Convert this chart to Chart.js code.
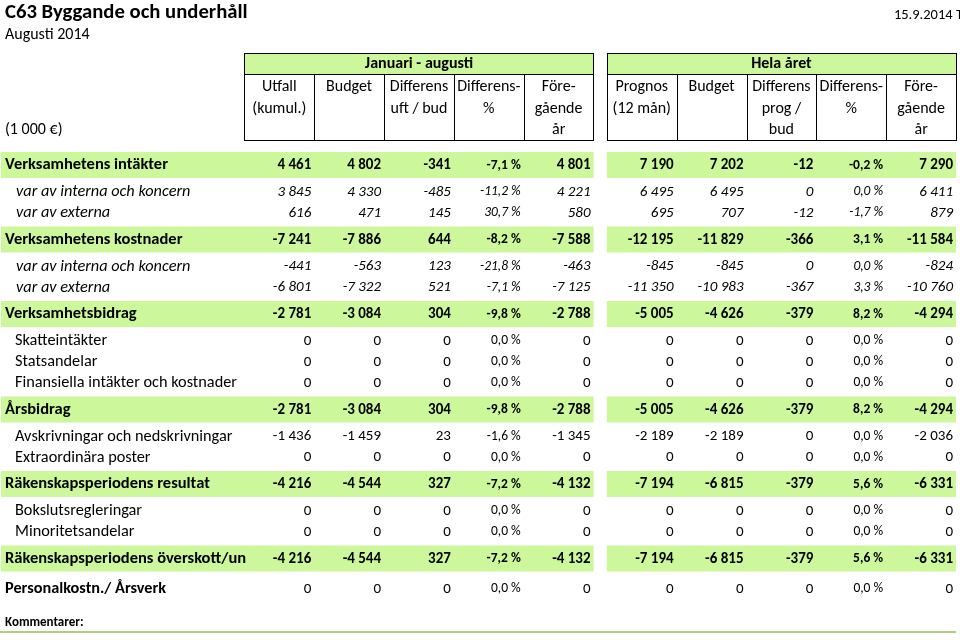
<!DOCTYPE html>
<html>
<head>
<meta charset="utf-8">
<script src="https://cdn.jsdelivr.net/npm/chart.js@4/dist/chart.umd.min.js"></script>
<style>
html, body { margin: 0; padding: 0; background: #fff; }
#wrap { width: 960px; height: 640px; }
</style>
</head>
<body>
<div id="wrap"><canvas id="mycanvas"></canvas></div>
<script>
// rows of the report
var rowLabels = [
	"Verksamhetens intäkter", "var av interna och koncern", "var av externa",
	"Verksamhetens kostnader", "var av interna och koncern", "var av externa",
	"Verksamhetsbidrag", "Skatteintäkter", "Statsandelar", "Finansiella intäkter och kostnader",
	"Årsbidrag", "Avskrivningar och nedskrivningar", "Extraordinära poster",
	"Räkenskapsperiodens resultat", "Bokslutsregleringar", "Minoritetsandelar",
	"Räkenskapsperiodens överskott/un", "Personalkostn./ Årsverk"
];
// g = green total row, i = italic sub row, n = normal row, p = personal row
var rowTypes = ["g","i","i","g","i","i","g","n","n","n","g","n","n","g","n","n","g","p"];

// Januari - augusti
var utfall   = [4461, 3845, 616, -7241, -441, -6801, -2781, 0, 0, 0, -2781, -1436, 0, -4216, 0, 0, -4216, 0];
var budget   = [4802, 4330, 471, -7886, -563, -7322, -3084, 0, 0, 0, -3084, -1459, 0, -4544, 0, 0, -4544, 0];
var diffUB   = [-341, -485, 145, 644, 123, 521, 304, 0, 0, 0, 304, 23, 0, 327, 0, 0, 327, 0];
var diffPct  = [-7.1, -11.2, 30.7, -8.2, -21.8, -7.1, -9.8, 0, 0, 0, -9.8, -1.6, 0, -7.2, 0, 0, -7.2, 0];
var foreg    = [4801, 4221, 580, -7588, -463, -7125, -2788, 0, 0, 0, -2788, -1345, 0, -4132, 0, 0, -4132, 0];
// Hela året
var prognos  = [7190, 6495, 695, -12195, -845, -11350, -5005, 0, 0, 0, -5005, -2189, 0, -7194, 0, 0, -7194, 0];
var budgetAr = [7202, 6495, 707, -11829, -845, -10983, -4626, 0, 0, 0, -4626, -2189, 0, -6815, 0, 0, -6815, 0];
var diffPB   = [-12, 0, -12, -366, 0, -367, -379, 0, 0, 0, -379, 0, 0, -379, 0, 0, -379, 0];
var diffPctAr= [-0.2, 0.0, -1.7, 3.1, 0.0, 3.3, 8.2, 0, 0, 0, 8.2, 0, 0, 5.6, 0, 0, 5.6, 0];
var foregAr  = [7290, 6411, 879, -11584, -824, -10760, -4294, 0, 0, 0, -4294, -2036, 0, -6331, 0, 0, -6331, 0];

var janHeads = [["Utfall", "(kumul.)"], ["Budget"], ["Differens", "uft / bud"], ["Differens-", "%"], ["Före-", "gående", "år"]];
var arHeads  = [["Prognos", "(12 mån)"], ["Budget"], ["Differens", "prog /", "bud"], ["Differens-", "%"], ["Före-", "gående", "år"]];

var columns = [utfall, budget, diffUB, diffPct, foreg, prognos, budgetAr, diffPB, diffPctAr, foregAr];
var isPct = [false, false, false, true, false, false, false, false, true, false];

// layout
var FONT = "Carlito, Lato, 'Open Sans', sans-serif";
var GREEN = "rgb(204,247,155)";
var LABEL_W = 3.5, GAP = 0.19;
var rowH = { g: 32.5, i: 21, n: 21, p: 28 };

function colLeft(c) { return c < 5 ? LABEL_W + c : LABEL_W + GAP + c; }
var xMax = colLeft(9) + 1;

var rowTop = [], total = 0;
for (var r in rowTypes) { rowTop.push(total); total += rowH[rowTypes[r]]; }
function rowCenter(r) { return rowTop[r] + rowH[rowTypes[r]] / 2; }

function fmtNum(v) {
	var s = Math.abs(v).toString().replace(/\B(?=(\d{3})+(?!\d))/g, " ");
	return (v < 0 ? "-" : "") + s;
}
function fmtPct(v) {
	return (v < 0 ? "-" : "") + Math.abs(v).toFixed(1).replace(".", ",") + " %";
}

var datasets = [];
for (var c = 0; c < columns.length; c++) {
	var pts = [];
	for (var r = 0; r < rowLabels.length; r++) {
		pts.push({ x: colLeft(c) + 0.5, y: rowCenter(r) });
	}
	datasets.push({ label: "col" + c, data: pts, pointRadius: 0, showLine: false, values: columns[c], pct: isPct[c] });
}

var tablePlugin = {
	id: "table",
	beforeDatasetsDraw: function(chart) {
		var ctx = chart.ctx, xs = chart.scales.x, ys = chart.scales.y;
		ctx.save();
		ctx.fillStyle = GREEN;
		for (var r = 0; r < rowTypes.length; r++) {
			if (rowTypes[r] !== "g") continue;
			var t = ys.getPixelForValue(rowTop[r] + 3), b = ys.getPixelForValue(rowTop[r] + rowH.g - 3.5);
			ctx.fillRect(1, t, xs.getPixelForValue(colLeft(5) - GAP) - 1, b - t);
			ctx.fillRect(xs.getPixelForValue(colLeft(5)), t, xs.getPixelForValue(xMax) - xs.getPixelForValue(colLeft(5)), b - t);
		}
		ctx.restore();
	},
	afterDatasetsDraw: function(chart) {
		var ctx = chart.ctx, xs = chart.scales.x, ys = chart.scales.y;
		ctx.save();
		ctx.fillStyle = "#000";
		ctx.textBaseline = "middle";

		// title
		ctx.textAlign = "left";
		ctx.font = "bold 20.7px " + FONT;
		ctx.fillText("C63 Byggande och underhåll", 5, 13);
		ctx.font = "16px " + FONT;
		ctx.fillText("Augusti 2014", 5, 35);
		ctx.textAlign = "right";
		ctx.font = "14.5px " + FONT;
		ctx.fillText("15.9.2014 T", 963, 15);
		ctx.textAlign = "left";
		ctx.font = "16px " + FONT;
		ctx.fillText("(1 000 €)", 5, 130);

		// header boxes
		var groups = [["Januari - augusti", 0, janHeads], ["Hela året", 5, arHeads]];
		groups.forEach(function(g) {
			var x0 = xs.getPixelForValue(colLeft(g[1])), x1 = xs.getPixelForValue(colLeft(g[1] + 4) + 1);
			ctx.fillStyle = GREEN;
			ctx.fillRect(x0, 53, x1 - x0, 21);
			ctx.fillStyle = "#000";
			ctx.font = "bold 16px " + FONT;
			ctx.textAlign = "center";
			ctx.fillText(g[0], (x0 + x1) / 2, 64);
			ctx.strokeStyle = "#000";
			ctx.lineWidth = 1;
			ctx.strokeRect(Math.round(x0) + 0.5, 53.5, Math.round(x1 - x0), 87);
			ctx.beginPath();
			ctx.moveTo(x0, 74.5); ctx.lineTo(x1, 74.5);
			for (var k = 1; k < 5; k++) {
				var xv = Math.round(xs.getPixelForValue(colLeft(g[1] + k))) + 0.5;
				ctx.moveTo(xv, 74); ctx.lineTo(xv, 140);
			}
			ctx.stroke();
			ctx.font = "16px " + FONT;
			for (var k = 0; k < 5; k++) {
				var cx = xs.getPixelForValue(colLeft(g[1] + k) + 0.5);
				g[2][k].forEach(function(line, li) {
					ctx.fillText(line, cx, 87 + li * 21.5);
				});
			}
		});

		// row labels
		ctx.textAlign = "left";
		for (var r = 0; r < rowLabels.length; r++) {
			var t = rowTypes[r], y = ys.getPixelForValue(rowCenter(r));
			if (t === "g") { ctx.font = "bold 16.5px " + FONT; ctx.fillText(rowLabels[r], 5, y); }
			else if (t === "i") { ctx.font = "italic 16.3px " + FONT; ctx.fillText(rowLabels[r], 16, y); }
			else if (t === "n") { ctx.font = "16.3px " + FONT; ctx.fillText(rowLabels[r], 15, y); }
			else { ctx.font = "bold 16.3px " + FONT; ctx.fillText(rowLabels[r], 5, y); }
		}

		// cell values
		ctx.textAlign = "right";
		chart.data.datasets.forEach(function(ds, di) {
			var meta = chart.getDatasetMeta(di);
			meta.data.forEach(function(pt, i) {
				var t = rowTypes[i];
				var style = t === "g" ? "bold " : (t === "i" ? "italic " : "");
				var size = ds.pct ? 13.5 : 15;
				ctx.font = style + size + "px " + FONT;
				var txt = ds.pct ? fmtPct(ds.values[i]) : fmtNum(ds.values[i]);
				var right = xs.getPixelForValue(colLeft(di) + 1) - 3;
				ctx.fillText(txt, right, pt.y);
			});
		});

		// comments
		ctx.textAlign = "left";
		ctx.font = "bold 13px " + FONT;
		ctx.fillText("Kommentarer:", 5, 623);
		ctx.strokeStyle = "#9bbb59";
		ctx.lineWidth = 1.5;
		ctx.beginPath();
		ctx.moveTo(0, 632); ctx.lineTo(xs.getPixelForValue(xMax), 632);
		ctx.stroke();
		ctx.restore();
	}
};

var ctx = document.getElementById("mycanvas");
var table = new Chart(ctx, {
	type: "scatter",
	data: { datasets: datasets },
	options: {
		responsive: true,
		maintainAspectRatio: false,
		animation: false,
		layout: { padding: { top: 149, bottom: 640 - 149 - total, left: 0, right: 4 } },
		plugins: { legend: { display: false }, tooltip: { enabled: false } },
		scales: {
			x: { type: "linear", min: 0, max: xMax, display: false },
			y: { type: "linear", min: 0, max: total, reverse: true, display: false }
		}
	},
	plugins: [tablePlugin]
});
</script>
</body>
</html>
